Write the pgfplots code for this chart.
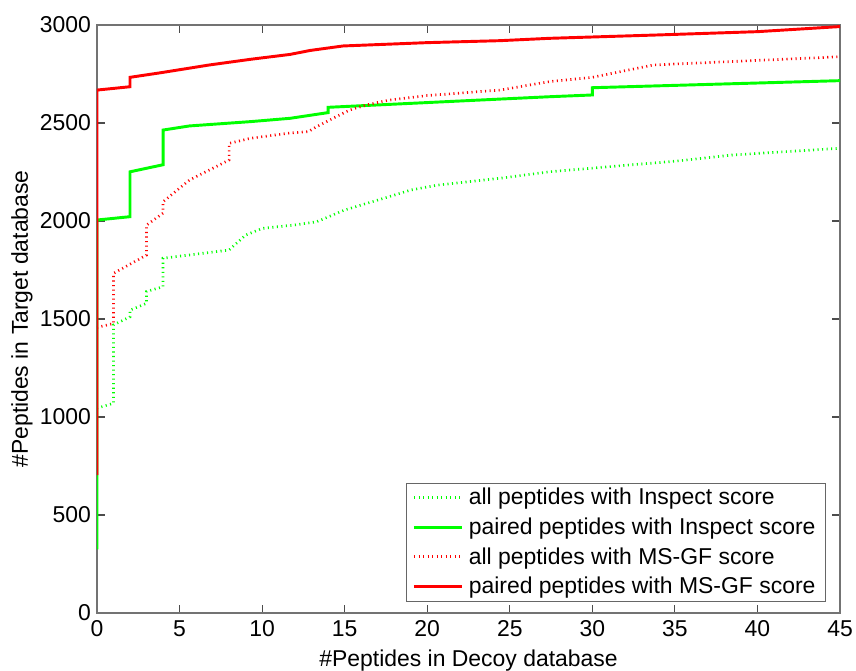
\documentclass[border=0pt]{standalone}
\usepackage{fontspec}
\setmainfont{Liberation Sans}
\usepackage{pgfplots}
\pgfplotsset{compat=1.18}
\definecolor{mgreen}{RGB}{0,255,0}
\definecolor{mred}{RGB}{255,0,0}
\newcommand\ff{\fontsize{17.2}{20}\selectfont}

\begin{document}
\begin{tikzpicture}
% page = 856x670 px at 0.75pt per px
\useasboundingbox (-72.75pt,-42.98pt) rectangle (569.25pt,459.75pt);
\begin{axis}[
    scale only axis,
    width=557.25pt, height=441pt,
    xmin=0, xmax=45, ymin=0, ymax=3000,
    xtick={0,5,...,45}, ytick={0,500,...,3000},
    tick align=inside, tick pos=both,
    major tick length=6pt,
    axis line style={black!55, line width=0.8pt},
    every tick/.style={black!70, line width=0.8pt},
    tick label style={font=\ff},
    /pgf/number format/assume math mode=true,
    /pgf/number format/1000 sep={},
    scaled ticks=false,
    xticklabel style={yshift=-2pt},
    yticklabel style={xshift=-1pt},
    xlabel={\#Peptides in Decoy database},
    ylabel={\#Peptides in Target database},
    label style={font=\ff},
    xlabel style={at={(axis description cs:0.5,-0.0907)}, anchor=base},
    ylabel style={at={(axis description cs:-0.101,0.5)}, anchor=center},
    legend style={
        at={(axis description cs:0.98,0.02)}, anchor=south east,
        draw=black!60, fill=white, font=\ff,
        cells={anchor=west}, inner xsep=5pt, inner ysep=2pt, row sep=4.2pt,
        /tikz/every odd column/.append style={column sep=2pt},
    },
    legend image code/.code={\draw[#1] (0pt,0pt) -- (36pt,0pt);},
]
% all peptides with Inspect score
\addplot[mgreen, line width=2pt, dash pattern=on 0.8pt off 2.6pt] coordinates {
    (0,1045) (1,1070) (1,1470) (2,1511) (2,1545) (3,1580) (3,1640)
    (4,1665) (4,1810) (8,1852) (9,1928) (10,1962) (12,1980) (13.3,1996)
    (15,2056) (18,2132) (19,2158) (20.6,2183) (24.4,2218) (27.4,2251)
    (31,2277) (35,2305) (38.5,2337) (45,2371)
};
\addlegendentry{all peptides with Inspect score}
% paired peptides with Inspect score
\addplot[mgreen, line width=2.2pt] coordinates {
    (0,325) (0,2005) (2,2022) (2,2251) (4,2287) (4,2464) (5.6,2485)
    (9.3,2507) (11.7,2524) (14,2553) (14,2580) (24.4,2622) (27.4,2634)
    (30,2643) (30,2680) (45,2716)
};
\addlegendentry{paired peptides with Inspect score}
% all peptides with MS-GF score
\addplot[mred, line width=2pt, dash pattern=on 0.8pt off 2.6pt] coordinates {
    (0,1457) (1,1477) (1,1733) (3,1826) (3,1979) (4,2040) (4,2098)
    (5.6,2209) (8,2311) (8,2396) (9.3,2422) (11.7,2449) (12.8,2456)
    (13.3,2481) (14.3,2524) (15.3,2566) (16.3,2592) (17.7,2617) (20,2640)
    (24.4,2668) (27.4,2711) (30,2733) (33.7,2796) (45,2838)
};
\addlegendentry{all peptides with MS-GF score}
% paired peptides with MS-GF score
\addplot[mred, line width=2.2pt] coordinates {
    (0,703) (0,2668) (2,2685) (2,2733) (3.9,2757) (6.8,2796) (9.3,2825)
    (11.7,2850) (12.9,2870) (14.9,2893) (20,2910) (24.4,2920) (27.4,2932)
    (33.9,2949) (40,2966) (45,2992)
};
\addlegendentry{paired peptides with MS-GF score}
\end{axis}
\end{tikzpicture}
\end{document}
